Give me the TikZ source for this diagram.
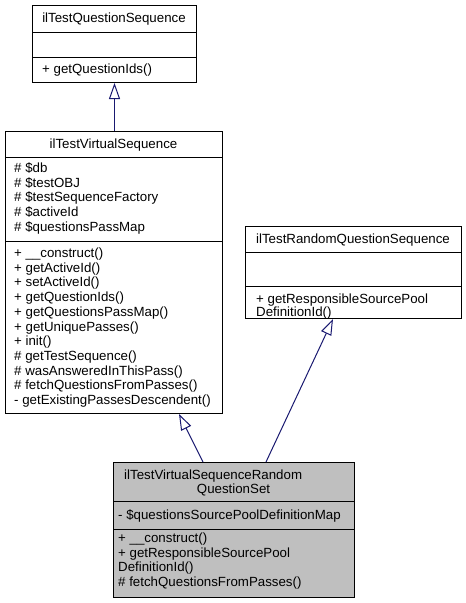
\documentclass[tikz,border=0pt]{standalone}
\usepackage{fontspec}
\setmainfont{Liberation Sans}
\usetikzlibrary{arrows.meta}
\definecolor{edgeblue}{HTML}{191970}
\definecolor{boxgray}{HTML}{BFBFBF}
\newcommand\umlrows[5]{%
  \foreach \rowtext [count=\i] in {#5} {\node[txt] (#1\i) at (#2,{#3+4.5+(\i-1)*#4}) {\rowtext};}}
\begin{document}
\begin{tikzpicture}[x=1pt,y=-1pt,
  umlfont/.style={font=\fontsize{13.3}{14.7}\selectfont},
  txt/.style={umlfont,anchor=base west,inner sep=0pt},
  ttl/.style={umlfont,anchor=base,inner sep=0pt},
  classbox/.style={draw=black,line width=1pt,anchor=north west,inner sep=0pt,fill=white},
  sep/.style={draw=black,line width=1pt},
  inh/.style={draw=edgeblue,line width=1pt,-{Triangle[open,length=16pt,width=11pt]}}]
\useasboundingbox (0,0) rectangle (466,603);
% boxes
\node[classbox,minimum width=164,minimum height=77] (b1) at (32,5) {};
\node[classbox,minimum width=217,minimum height=282] (b2) at (5,131) {};
\node[classbox,minimum width=216,minimum height=92] (b3) at (245,226) {};
\node[classbox,fill=boxgray,minimum width=241,minimum height=135] (b4) at (113,462) {};
% separators
\draw[sep] ([yshift=-27pt]b1.north west) -- ([yshift=-27pt]b1.north east);
\draw[sep] ([yshift=-52pt]b1.north west) -- ([yshift=-52pt]b1.north east);
\draw[sep] ([yshift=-26pt]b2.north west) -- ([yshift=-26pt]b2.north east);
\draw[sep] ([yshift=-110pt]b2.north west) -- ([yshift=-110pt]b2.north east);
\draw[sep] ([yshift=-26pt]b3.north west) -- ([yshift=-26pt]b3.north east);
\draw[sep] ([yshift=-60pt]b3.north west) -- ([yshift=-60pt]b3.north east);
\draw[sep] ([yshift=-39pt]b4.north west) -- ([yshift=-39pt]b4.north east);
\draw[sep] ([yshift=-67pt]b4.north west) -- ([yshift=-67pt]b4.north east);
% texts
\node[ttl] (t1) at (114,22.5) {ilTestQuestionSequence};
\umlrows{m1}{42}{69}{14.7}{+ getQuestionIds()}
\node[ttl] (t2) at (113.5,148.5) {ilTestVirtualSequence};
\umlrows{a2}{14}{168}{14.7}{\# \$db,\# \$testOBJ,\# \$testSequenceFactory,\# \$activeId,\# \$questionsPassMap}
\umlrows{m2}{14}{253}{14.7}{+ \_\_construct(),+ getActiveId(),+ setActiveId(),+ getQuestionIds(),+ getQuestionsPassMap(),+ getUniquePasses(),+ init(),\# getTestSequence(),\# wasAnsweredInThisPass(),\# fetchQuestionsFromPasses(),- getExistingPassesDescendent()}
\node[ttl] (t3) at (353,243.5) {ilTestRandomQuestionSequence};
\umlrows{m3}{256}{299}{12.5}{+ getResponsibleSourcePool,DefinitionId()}
\node[txt] (t4a) at (124,479.5) {ilTestVirtualSequenceRandom};
\node[ttl] (t4b) at (233.5,493.5) {QuestionSet};
\umlrows{a4}{118}{515}{14.7}{- \$questionsSourcePoolDefinitionMap}
\umlrows{m4}{118}{538}{14.7}{+ \_\_construct(),+ getResponsibleSourcePool,DefinitionId(),\# fetchQuestionsFromPasses()}
% edges
\coordinate (e1s) at (b1.south |- b2.north);
\draw[inh] (e1s) -- (b1.south);
\coordinate (e2s) at ([xshift=90pt]b4.north west);
\coordinate (e2t) at ([xshift=174pt]b2.south west);
\draw[inh] (e2s) -- (e2t);
\coordinate (e3s) at ([xshift=153pt]b4.north west);
\coordinate (e3t) at ([xshift=88pt]b3.south west);
\draw[inh] (e3s) -- (e3t);
\end{tikzpicture}
\end{document}
